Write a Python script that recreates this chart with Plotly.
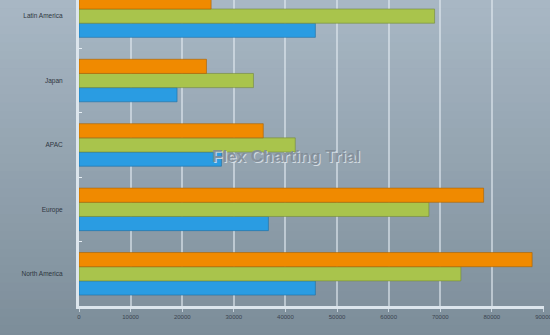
import plotly.graph_objects as go

categories = ["North America", "Europe", "APAC", "Japan", "Latin America"]
blue_vals = [45800, 36700, 27600, 19000, 45800]
green_vals = [74000, 67800, 41900, 33800, 68900]
orange_vals = [87800, 78400, 35700, 24700, 25600]
x_ticks = [0, 10000, 20000, 30000, 40000, 50000, 60000, 70000, 80000, 90000]

fig = go.Figure()
for vals, col, edge in [(blue_vals, "#2A9CE2", "#1F6FA3"),
                        (green_vals, "#A9C44C", "#74883A"),
                        (orange_vals, "#F08A00", "#A86200")]:
    fig.add_trace(go.Bar(y=categories, x=vals, orientation="h",
                         marker=dict(color=col, line=dict(color=edge, width=0.6)),
                         hoverinfo="skip"))

# background gradient stripes (whole figure)
top = (168, 183, 196)
bot = (124, 141, 153)
n = 40
shapes = []
for i in range(n):
    t = i / (n - 1)
    c = tuple(int(round(top[k] + (bot[k] - top[k]) * t)) for k in range(3))
    y1 = 1 - i / n
    y0 = 1 - (i + 1) / n
    shapes.append(dict(type="rect", xref="paper", yref="paper",
                       x0=-0.2, x1=1.05, y0=-0.12 + y0 * 1.12 - 0.001,
                       y1=-0.12 + y1 * 1.12 + 0.001,
                       fillcolor="rgb(%d,%d,%d)" % c, line=dict(width=0), layer="below"))

fig.update_layout(
    width=550, height=335,
    margin=dict(l=79, r=6, t=0, b=29),
    barmode="group", bargap=0.34, bargroupgap=0,
    showlegend=False,
    paper_bgcolor="#94A5B2",
    plot_bgcolor="rgba(0,0,0,0)",
    shapes=shapes,
    xaxis=dict(range=[0, 90100], tickvals=x_ticks, ticktext=[str(v) for v in x_ticks],
               showgrid=True, gridcolor="rgba(225,233,240,0.6)", gridwidth=2,
               zeroline=False, showline=True, linecolor="#DCE5EC", linewidth=3,
               ticks="outside", ticklen=3, tickcolor="#C8D3DC",
               ticklabeloverflow="allow", automargin=False,
               tickfont=dict(family="Liberation Sans, Arial", size=6, color="#3A4450")),
    yaxis=dict(type="category", categoryorder="array", categoryarray=categories,
               range=[-0.5, 4.25], showgrid=False, zeroline=False,
               showline=True, linecolor="#DCE5EC", linewidth=3,
               tickson="boundaries", ticks="inside", ticklen=3, tickcolor="#E6EEF4",
               ticklabelstandoff=12, automargin=False,
               tickfont=dict(family="Liberation Sans, Arial", size=6.5, color="#2E3640")),
    annotations=[dict(text="Flex Charting Trial", x=0.445, y=0.487, xref="paper", yref="paper",
                      showarrow=False,
                      font=dict(family="Liberation Sans, Arial", size=17, weight="bold",
                                color="rgba(128,139,150,0.9)",
                                shadow="1px 1px 0px rgba(225,232,238,0.9)"))],
)

fig.write_html("out.html")
